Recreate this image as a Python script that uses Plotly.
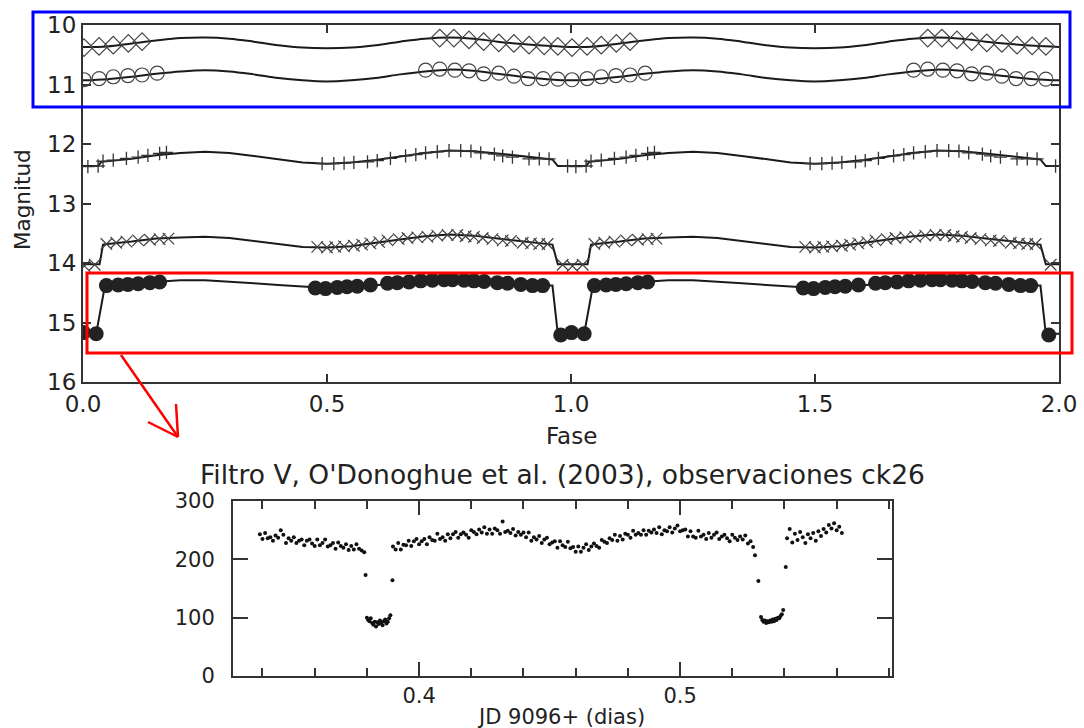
import plotly.graph_objects as go

W, H = 1084, 728
FONT = "DejaVu Sans"

# ---------------- top panel: phase-folded light curves (magnitudes) ----------------
# observed points (phase, magnitude); plotted at phase-1, phase, phase+1 inside [0, 2]
dia_ph = [0.731, 0.760, 0.791, 0.821, 0.852, 0.883, 0.914, 0.945, 0.973, 1.002, 1.033, 1.062, 1.093, 1.121]
dia_mag = [10.22, 10.22, 10.25, 10.28, 10.30, 10.31, 10.34, 10.35, 10.36, 10.38, 10.36, 10.34, 10.31, 10.28]

cir_ph = [0.702, 0.731, 0.762, 0.791, 0.821, 0.852, 0.883, 0.912, 0.943, 0.973, 1.002, 1.033, 1.062, 1.092, 1.121, 1.152]
cir_mag = [10.76, 10.74, 10.76, 10.77, 10.82, 10.81, 10.86, 10.90, 10.90, 10.91, 10.92, 10.90, 10.87, 10.85, 10.84, 10.81]

plus_ph = [0.490, 0.514, 0.535, 0.555, 0.583, 0.603, 0.630, 0.661, 0.682, 0.702, 0.726, 0.750, 0.774, 0.795, 0.815,
           0.843, 0.860, 0.880, 0.914, 0.935, 0.955, 0.993, 1.010, 1.031, 1.041, 1.062, 1.089, 1.113, 1.133, 1.157, 1.171]
plus_mag = [12.33, 12.33, 12.32, 12.31, 12.30, 12.28, 12.24, 12.20, 12.18, 12.15, 12.13, 12.11, 12.11, 12.12, 12.15,
            12.17, 12.20, 12.22, 12.25, 12.25, 12.25, 12.37, 12.38, 12.37, 12.29, 12.27, 12.24, 12.22, 12.19, 12.16, 12.14]

x_ph = [0.480, 0.500, 0.517, 0.535, 0.555, 0.572, 0.589, 0.607, 0.624, 0.647, 0.665, 0.685, 0.706, 0.726, 0.747,
        0.767, 0.784, 0.801, 0.819, 0.839, 0.860, 0.877, 0.901, 0.918, 0.935, 0.952, 0.983, 1.003, 1.024, 1.048,
        1.068, 1.089, 1.113, 1.137, 1.157, 1.175]
x_mag = [13.73, 13.74, 13.73, 13.72, 13.71, 13.69, 13.67, 13.65, 13.62, 13.60, 13.58, 13.57, 13.56, 13.54, 13.53,
         13.53, 13.55, 13.56, 13.58, 13.60, 13.62, 13.63, 13.66, 13.67, 13.68, 13.68, 14.03, 14.05, 14.03, 13.68,
         13.66, 13.64, 13.62, 13.61, 13.60, 13.59]

dot_ph = [0.476, 0.497, 0.521, 0.541, 0.562, 0.589, 0.624, 0.644, 0.668, 0.692, 0.716, 0.740, 0.757, 0.781, 0.801,
          0.822, 0.849, 0.870, 0.897, 0.921, 0.942, 0.979, 1.001, 1.027, 1.048, 1.072, 1.092, 1.113, 1.137, 1.157]
dot_mag = [14.42, 14.43, 14.41, 14.40, 14.39, 14.37, 14.34, 14.33, 14.32, 14.30, 14.29, 14.28, 14.28, 14.29, 14.30,
           14.31, 14.33, 14.34, 14.36, 14.38, 14.38, 15.21, 15.17, 15.19, 14.38, 14.37, 14.36, 14.35, 14.33, 14.32]

# model curves over one cycle (phase 0..1), repeated for the second cycle
smooth_ph = [0.0, 0.05, 0.10, 0.15, 0.20, 0.25, 0.30, 0.35, 0.40, 0.45, 0.50,
             0.55, 0.60, 0.65, 0.70, 0.75, 0.80, 0.85, 0.90, 0.95, 1.0]
modA = [10.37, 10.36, 10.31, 10.26, 10.22, 10.21, 10.23, 10.28, 10.34, 10.38, 10.39,
        10.38, 10.34, 10.28, 10.23, 10.21, 10.23, 10.28, 10.32, 10.35, 10.37]
modB = [10.93, 10.91, 10.87, 10.82, 10.78, 10.76, 10.78, 10.83, 10.89, 10.93, 10.95,
        10.93, 10.89, 10.83, 10.78, 10.75, 10.77, 10.82, 10.87, 10.91, 10.93]

ecl_phC = [0.0, 0.030, 0.038, 0.05, 0.10, 0.15, 0.20, 0.25, 0.30, 0.35, 0.40, 0.45, 0.50,
           0.55, 0.60, 0.65, 0.70, 0.75, 0.80, 0.85, 0.90, 0.95, 0.962, 0.973, 1.0]
modC = [12.37, 12.37, 12.30, 12.29, 12.25, 12.19, 12.15, 12.13, 12.15, 12.20, 12.26, 12.31, 12.33,
        12.31, 12.27, 12.21, 12.15, 12.11, 12.12, 12.16, 12.21, 12.25, 12.26, 12.37, 12.37]
ecl_phD = [0.0, 0.034, 0.041, 0.05, 0.10, 0.15, 0.20, 0.25, 0.30, 0.35, 0.40, 0.45, 0.50,
           0.55, 0.60, 0.65, 0.70, 0.75, 0.80, 0.85, 0.90, 0.95, 0.962, 0.973, 1.0]
modD = [14.02, 14.02, 13.69, 13.68, 13.64, 13.59, 13.57, 13.56, 13.58, 13.63, 13.69, 13.73, 13.74,
        13.72, 13.66, 13.60, 13.55, 13.52, 13.54, 13.59, 13.64, 13.68, 13.69, 14.02, 14.02]
ecl_phE = [0.0, 0.027, 0.045, 0.05, 0.10, 0.15, 0.20, 0.25, 0.30, 0.35, 0.40, 0.45, 0.50,
           0.55, 0.60, 0.65, 0.70, 0.75, 0.80, 0.85, 0.90, 0.95, 0.962, 0.973, 1.0]
modE = [15.19, 15.19, 14.38, 14.37, 14.34, 14.31, 14.29, 14.29, 14.31, 14.34, 14.37, 14.40, 14.42,
        14.41, 14.37, 14.33, 14.30, 14.27, 14.28, 14.31, 14.35, 14.38, 14.38, 15.19, 15.19]

phase_ticks = [0.0, 0.5, 1.0, 1.5, 2.0]
phase_labels = ["0.0", "0.5", "1.0", "1.5", "2.0"]
mag_ticks = [10, 11, 12, 13, 14, 15, 16]

# ---------------- bottom panel: O'Donoghue et al. (2003) V-band data ----------------
jd_e4 = [
    3390, 3400, 3410, 3420, 3430, 3440, 3450, 3460, 3470, 3480,
    3490, 3500, 3510, 3520, 3530, 3540, 3550, 3560, 3570, 3580,
    3590, 3600, 3610, 3620, 3630, 3640, 3650, 3660, 3670, 3680,
    3690, 3700, 3710, 3720, 3730, 3740, 3750, 3760, 3770, 3780, 3790,
    3795,
    3800, 3805, 3810, 3815, 3820, 3825, 3830, 3835, 3840, 3845,
    3850, 3855, 3860, 3865, 3870, 3875, 3880, 3885, 3890,
    3898,
    3900, 3910, 3920, 3930, 3940, 3950, 3960, 3970, 3980, 3990,
    4000, 4010, 4020, 4030, 4040, 4050, 4060, 4070, 4080, 4090,
    4100, 4110, 4120, 4130, 4140, 4150, 4160, 4170, 4180, 4190,
    4200, 4210, 4220, 4230, 4240, 4250, 4260, 4270, 4280, 4290,
    4300, 4310, 4320, 4330, 4340, 4350, 4360, 4370, 4380, 4390,
    4400, 4410, 4420, 4430, 4440, 4450, 4460, 4470, 4480, 4490,
    4500, 4510, 4520, 4530, 4540, 4550, 4560, 4570, 4580, 4590,
    4600, 4610, 4620, 4630, 4640, 4650, 4660, 4670, 4680, 4690,
    4700, 4710, 4720, 4730, 4740, 4750, 4760, 4770, 4780, 4790,
    4800, 4810, 4820, 4830, 4840, 4850, 4860, 4870, 4880, 4890,
    4900, 4910, 4920, 4930, 4940, 4950, 4960, 4970, 4980, 4990,
    5000, 5010, 5020, 5030, 5040, 5050, 5060, 5070, 5080, 5090,
    5100, 5110, 5120, 5130, 5140, 5150, 5160, 5170, 5180, 5190,
    5200, 5210, 5220, 5230, 5240, 5250, 5260, 5270, 5280,
    5287, 5300,
    5310, 5315, 5320, 5325, 5330, 5335, 5340, 5345, 5350, 5355,
    5360, 5365, 5370, 5375, 5380, 5385, 5390, 5395,
    5405,
    5410, 5420, 5430, 5440, 5450, 5460, 5470, 5480, 5490, 5500,
    5510, 5520, 5530, 5540, 5550, 5560, 5570, 5580, 5590, 5600, 5610, 5620,
]
flux = [
    243, 235, 245, 236, 238, 232, 241, 237, 250, 242,
    228, 236, 232, 238, 228, 232, 234, 224, 232, 234,
    227, 223, 234, 224, 228, 234, 222, 224, 228, 218,
    229, 223, 220, 226, 216, 223, 217, 226, 218, 215, 212,
    173,
    100, 96, 94, 99, 91, 88, 93, 85, 92, 89,
    95, 91, 87, 94, 97, 90, 93, 99, 104,
    164,
    222, 217, 228, 217, 225, 224, 232, 223, 231, 235,
    226, 231, 235, 226, 238, 233, 232, 244, 235, 238,
    232, 243, 236, 243, 247, 237, 243, 246, 242, 237,
    250, 247, 243, 251, 246, 255, 244, 251, 244, 253,
    250, 244, 265, 247, 249, 245, 252, 241, 247, 242,
    246, 238, 246, 232, 238, 234, 240, 228, 234, 237,
    226, 229, 231, 220, 231, 224, 221, 230, 219, 221,
    213, 222, 213, 220, 226, 216, 222, 227, 223, 220,
    233, 230, 228, 236, 233, 242, 232, 240, 234, 244,
    242, 237, 249, 242, 245, 242, 250, 242, 249, 246,
    251, 245, 255, 243, 250, 248, 255, 246, 253, 258,
    248, 250, 251, 239, 248, 239, 237, 249, 239, 242,
    235, 245, 237, 242, 246, 235, 239, 242, 236, 231,
    242, 237, 233, 239, 234, 241, 227, 231, 221,
    207, 163,
    101, 96, 93, 95, 91, 94, 92, 95, 93, 97,
    94, 98, 96, 100, 99, 103, 106, 113,
    187,
    236, 252, 229, 244, 233, 247, 238, 228, 243, 236,
    245, 232, 248, 240, 252, 246, 259, 253, 262, 250, 256, 245,
]
jd_ticks = [0.4, 0.5]
jd_labels = ["0.4", "0.5"]
flux_ticks = [0, 100, 200, 300]


def px(x):
    return x / W


def py(y):
    return 1 - y / H


def fold(ph, mag):
    xs, ys = [], []
    for shift in (-1, 0, 1):
        for p, m in zip(ph, mag):
            q = p + shift
            if 0 <= q <= 2:
                xs.append(q)
                ys.append(m)
    return xs, ys


def two_cycles(ph, vals):
    return list(ph) + [p + 1 for p in ph[1:]], list(vals) + list(vals[1:])


fig = go.Figure()

LINE = dict(color="#1a1a1a", width=2)
for ph, mv, shape in [(smooth_ph, modA, "spline"), (smooth_ph, modB, "spline"),
                      (ecl_phC, modC, "linear"), (ecl_phD, modD, "linear"), (ecl_phE, modE, "linear")]:
    xx, yy = two_cycles(ph, mv)
    fig.add_trace(go.Scatter(x=xx, y=yy, mode="lines", line=dict(LINE, shape=shape),
                             xaxis="x", yaxis="y", showlegend=False, hoverinfo="skip"))

marker_sets = [
    (dia_ph, dia_mag, dict(symbol="diamond-open", size=13.5, color="#444", line=dict(width=1.2, color="#444"))),
    (cir_ph, cir_mag, dict(symbol="circle-open", size=14, color="#444", line=dict(width=1.2, color="#444"))),
    (plus_ph, plus_mag, dict(symbol="cross-thin-open", size=9.5, color="#333", line=dict(width=1.3, color="#333"))),
    (x_ph, x_mag, dict(symbol="x-thin-open", size=11.5, color="#444", line=dict(width=1.2, color="#444"))),
    (dot_ph, dot_mag, dict(symbol="circle", size=15, color="#222", line=dict(width=0))),
]
for ph, mg, mk in marker_sets:
    xx, yy = fold(ph, mg)
    fig.add_trace(go.Scatter(x=xx, y=yy, mode="markers", marker=mk,
                             xaxis="x", yaxis="y", showlegend=False, hoverinfo="skip"))

fig.add_trace(go.Scatter(x=[v / 1e4 for v in jd_e4], y=flux, mode="markers",
                         marker=dict(symbol="circle", size=4, color="#111"),
                         xaxis="x2", yaxis="y2", showlegend=False, hoverinfo="skip"))

axis_common = dict(showline=True, linecolor="#333", linewidth=2, mirror="ticks", ticks="inside",
                   tickcolor="#333", tickwidth=1.5, showgrid=False, zeroline=False, automargin=False)

fig.update_layout(
    width=W, height=H, margin=dict(l=0, r=0, t=0, b=0, autoexpand=False),
    paper_bgcolor="white", plot_bgcolor="white",
    font=dict(family=FONT, color="#222"),
    xaxis=dict(axis_common, domain=[px(83), px(1059)], range=[0, 2], anchor="y",
               tickvals=phase_ticks, ticktext=phase_labels, ticklen=8,
               tickfont=dict(family=FONT, size=23, color="#222")),
    yaxis=dict(axis_common, domain=[py(382), py(25)], range=[16, 10], anchor="x",
               tickvals=mag_ticks, ticklen=8,
               tickfont=dict(family=FONT, size=23, color="#222")),
    xaxis2=dict(axis_common, domain=[px(233), px(892)], range=[0.3287, 0.5812], anchor="y2",
                tickvals=jd_ticks, ticktext=jd_labels, ticklen=14,
                minor=dict(tickvals=[0.34, 0.36, 0.38, 0.42, 0.44, 0.46, 0.48, 0.52, 0.54, 0.56, 0.58],
                           ticks="inside", ticklen=8, tickcolor="#333", tickwidth=1.5),
                tickfont=dict(family=FONT, size=21, color="#222")),
    yaxis2=dict(axis_common, domain=[py(676), py(501)], range=[0, 300], anchor="x2",
                tickvals=flux_ticks, ticklen=15, ticklabelstandoff=12,
                tickfont=dict(family=FONT, size=21, color="#222")),
)

annotations = [
    dict(text="Magnitud", x=px(22), y=py(200), textangle=-90, font=dict(size=21.5)),
    dict(text="Fase", x=px(571), y=py(436), font=dict(size=23)),
    dict(text="Filtro V, O'Donoghue et al. (2003), observaciones ck26", x=px(562), y=py(474), font=dict(size=26.5)),
    dict(text="JD 9096+ (dias)", x=px(561), y=py(717), font=dict(size=21)),
]
for a in annotations:
    fig.add_annotation(xref="paper", yref="paper", showarrow=False, xanchor="center", yanchor="middle",
                       font=dict(a.pop("font"), family=FONT, color="#222"), **a)

shapes = [
    dict(type="rect", x0=px(33), x1=px(1070), y0=py(107), y1=py(12), line=dict(color="#0000ff", width=3)),
    dict(type="rect", x0=px(87), x1=px(1072), y0=py(353), y1=py(273), line=dict(color="#ff0000", width=3)),
    dict(type="line", x0=px(121), y0=py(355), x1=px(178), y1=py(437), line=dict(color="#ff0000", width=2.5)),
    dict(type="line", x0=px(178), y0=py(437), x1=px(176), y1=py(404), line=dict(color="#ff0000", width=2.5)),
    dict(type="line", x0=px(178), y0=py(437), x1=px(148), y1=py(422), line=dict(color="#ff0000", width=2.5)),
]
for s in shapes:
    fig.add_shape(xref="paper", yref="paper", layer="above", **s)

fig.write_html("out.html")
